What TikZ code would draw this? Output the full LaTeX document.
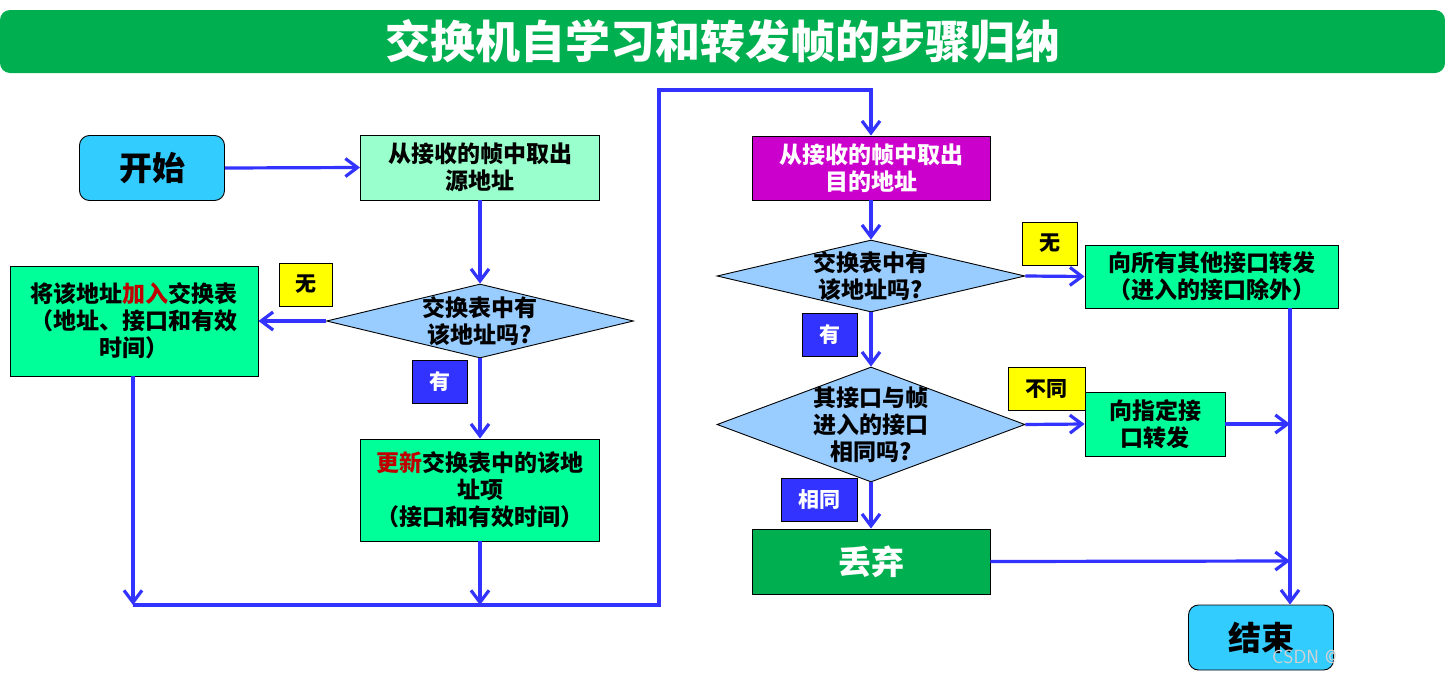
\documentclass[tikz,border=0pt]{standalone}
\usepackage{fontspec}
\setmainfont{Noto Sans CJK SC}
\usetikzlibrary{shapes.geometric,arrows.meta}
\definecolor{lineblue}{RGB}{51,51,255}
\definecolor{titlegreen}{RGB}{0,176,80}
\definecolor{skyblue}{RGB}{51,204,255}
\definecolor{palegreen}{RGB}{153,255,204}
\definecolor{brightgreen}{RGB}{0,255,153}
\definecolor{purp}{RGB}{204,0,204}
\definecolor{diafill}{RGB}{153,204,255}
\definecolor{darkred}{RGB}{192,0,0}
\definecolor{lblblue}{RGB}{51,51,255}
\definecolor{lblyellow}{RGB}{255,255,0}
\tikzset{
  x=1pt, y=-1pt,
  box/.style={draw=black, line width=0.9pt, inner sep=0pt, align=center,
    font=\fontsize{23}{27}\selectfont\bfseries},
  term/.style={box, rounded corners=10pt, fill=skyblue,
    minimum width=145pt, minimum height=65pt,
    font=\fontsize{33}{33}\selectfont\bfseries},
  dia/.style={diamond, draw=black, line width=0.9pt, fill=diafill, inner sep=0pt},
  diatext/.style={align=center, inner sep=0pt, font=\fontsize{23}{27}\selectfont\bfseries},
  ylabel/.style={draw=black, line width=0.9pt, fill=lblyellow, inner sep=0pt,
    minimum height=43pt, font=\fontsize{21}{21}\selectfont\bfseries},
  blabel/.style={draw=black, line width=0.9pt, fill=lblblue, text=white, inner sep=0pt,
    minimum height=43pt, font=\fontsize{21}{21}\selectfont\bfseries},
  conn/.style={draw=lineblue, line width=3.2pt},
  arr/.style={conn, -{Straight Barb[length=12pt,width=18pt]}},
}
\begin{document}
\begin{tikzpicture}
\useasboundingbox (0,0) rectangle (1445,675);
% title
\node[fill=titlegreen, rounded corners=10pt, minimum width=1445pt, minimum height=63pt,
  inner sep=0pt, text=white, font=\fontsize{45}{45}\selectfont\bfseries]
  (title) at (722.5,41.5) {交换机自学习和转发帧的步骤归纳};

% left column
\node[term] (start) at (152,168) {开始};
\node[box, fill=palegreen, minimum width=239pt, minimum height=65pt]
  (src) at (480,167.5) {从接收的帧中取出\\源地址};
\node[dia, minimum width=307pt, minimum height=74pt] (d1) at (480,321) {};
\node[diatext] (d1t) at (480,321) {交换表中有\\该地址吗?};
\node[box, fill=brightgreen, minimum width=248pt, minimum height=110pt]
  (add) at (134,321) {将该地址\textcolor{darkred}{加入}交换表\\（地址、接口和有效\\时间）};
\node[box, fill=brightgreen, minimum width=239pt, minimum height=102pt]
  (upd) at (480,490) {\textcolor{darkred}{更新}交换表中的该地\\址项\\（接口和有效时间）};
\node[ylabel, minimum width=53pt] (no1) at (305.5,284.5) {无};
\node[blabel, minimum width=55pt] (yes1) at (439.5,381.5) {有};

% right column
\node[box, fill=purp, text=white, minimum width=238pt, minimum height=64pt]
  (dst) at (871,168) {从接收的帧中取出\\目的地址};
\node[dia, minimum width=308pt, minimum height=72pt] (d2) at (871,276) {};
\node[diatext] (d2t) at (871,276) {交换表中有\\该地址吗?};
\node[box, fill=brightgreen, minimum width=253pt, minimum height=63pt]
  (all) at (1211.5,276.5) {向所有其他接口转发\\（进入的接口除外）};
\node[dia, minimum width=308pt, minimum height=115pt] (d3) at (871,424.5) {};
\node[diatext] (d3t) at (871,424.5) {其接口与帧\\进入的接口\\相同吗?};
\node[box, fill=brightgreen, minimum width=140pt, minimum height=64pt]
  (spec) at (1155,424) {向指定接\\口转发};
\node[box, fill=titlegreen, text=white, minimum width=238pt, minimum height=65pt,
  font=\fontsize{33}{33}\selectfont\bfseries] (drop) at (871,561.5) {丢弃};
\node[term] (end) at (1261,637.5) {结束};
\node[ylabel, minimum width=55pt] (no2) at (1049.5,243.5) {无};
\node[blabel, minimum width=55pt] (yes2) at (829.5,334.5) {有};
\node[ylabel, minimum width=77pt] (diff) at (1046.5,388.5) {不同};
\node[blabel, minimum width=76pt] (same) at (819,499.5) {相同};
\node[text=gray!35, anchor=west, inner sep=0pt, font=\fontsize{19}{19}\selectfont\sffamily]
  (wm) at (1272,657) {CSDN @};

% junction coordinates
\coordinate (m1) at (133,605);
\coordinate (m2) at (480,605);
\coordinate (m3) at (659,605);
\coordinate (t2) at (871,90);
\coordinate (e1) at (1290,424);
\coordinate (e2) at (1290,561);

% connectors left
\draw[arr] (start.east) -- (src.west);
\draw[arr] (src.south) -- (d1.north);
\draw[arr] (d1.west) -- (add.east);
\draw[arr] (d1.south) -- (upd.north);
\draw[arr] (add.south -| m1) -- (m1);
\draw[arr] (upd.south) -- (m2);
\draw[arr, line join=miter] (m1) -- (m3) |- (t2) -- (dst.north);

% connectors right
\draw[arr] (dst.south) -- (d2.north);
\draw[arr] (d2.east) -- (all.west);
\draw[arr] (d2.south) -- (d3.north);
\draw[arr] (d3.east) -- (spec.west);
\draw[arr] (spec.east) -- (e1);
\draw[arr] (d3.south) -- (drop.north);
\draw[arr] (drop.east) -- (e2);
\draw[arr] (all.south -| e1) -- (e1 |- end.north);
\end{tikzpicture}
\end{document}
